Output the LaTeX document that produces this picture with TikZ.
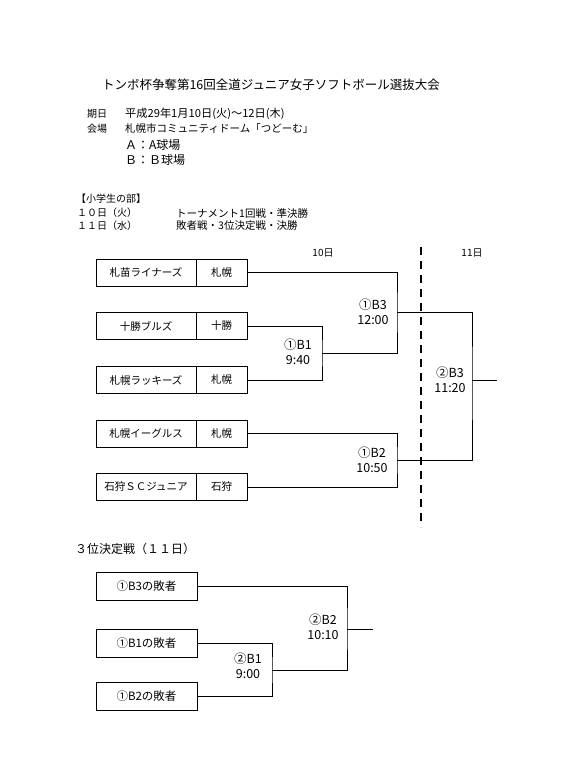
\documentclass[tikz,border=0pt]{standalone}
\usepackage{fontspec}
\setmainfont{Noto Sans CJK JP}
\usetikzlibrary{positioning}

\begin{document}
\begin{tikzpicture}[
    x=1pt, y=-1pt,
    txt/.style={anchor=west, inner sep=0pt, font=\fontsize{10.5}{12}\selectfont},
    cell/.style={draw, line width=0.9pt, outer sep=0pt, inner sep=0pt, minimum height=27pt, font=\fontsize{10.5}{12}\selectfont},
    namecell/.style={cell, minimum width=100pt},
    homecell/.style={cell, minimum width=51pt},
    losecell/.style={cell, minimum width=101pt, minimum height=28pt, font=\fontsize{11.5}{13}\selectfont},
    game/.style={align=center, inner sep=0pt, font=\fontsize{12.5}{14.5}\selectfont},
    line/.style={line width=0.9pt},
    dayline/.style={line width=2.5pt, dash pattern=on 8pt off 6pt}
  ]
    \useasboundingbox (0,0) rectangle (563,761);

    \node[font=\fontsize{12.5}{14}\selectfont] (title) at (271,85) {トンボ杯争奪第16回全道ジュニア女子ソフトボール選抜大会};
    \node[txt, font=\fontsize{10}{12}\selectfont] (kijitsu) at (87,114) {期日};
    \node[txt, font=\fontsize{11.2}{12}\selectfont] (date) at (125,114) {平成29年1月10日(火)～12日(木)};
    \node[txt, font=\fontsize{10}{12}\selectfont] (kaijo) at (87,129) {会場};
    \node[txt] (venue) at (125,129) {札幌市コミュニティドーム「つどーむ」};
    \node[txt, font=\fontsize{12}{14}\selectfont] (fieldA) at (125,145) {Ａ：A球場};
    \node[txt, font=\fontsize{12}{14}\selectfont] (fieldB) at (125,160) {Ｂ：Ｂ球場};

    \node[txt, font=\fontsize{10}{12}\selectfont] (div) at (76,199) {【小学生の部】};
    \node[txt, font=\fontsize{10}{12}\selectfont] (day1) at (77,213) {１０日（火）};
    \node[txt] (day1games) at (176,213) {トーナメント1回戦・準決勝};
    \node[txt, font=\fontsize{10}{12}\selectfont] (day2) at (77,226) {１１日（水）};
    \node[txt] (day2games) at (176,226) {敗者戦・3位決定戦・決勝};

    \node[font=\fontsize{10}{11}\selectfont] (head10) at (323,253) {10日};
    \node[font=\fontsize{10}{11}\selectfont] (head11) at (472,253) {11日};

    % tournament
    \node[namecell] (t1) at (146,272.5) {札苗ライナーズ};
    \node[homecell, right=0pt of t1] (h1) {札幌};
    \node[namecell] (t2) at (146,326) {十勝ブルズ};
    \node[homecell, right=0pt of t2] (h2) {十勝};
    \node[namecell] (t3) at (146,380) {札幌ラッキーズ};
    \node[homecell, right=0pt of t3] (h3) {札幌};
    \node[namecell] (t4) at (146,433.5) {札幌イーグルス};
    \node[homecell, right=0pt of t4] (h4) {札幌};
    \node[namecell] (t5) at (146,487) {石狩ＳＣジュニア};
    \node[homecell, right=0pt of t5] (h5) {石狩};

    \coordinate (b1) at (322,353);
    \coordinate (b3) at (397,312);
    \coordinate (b2) at (397,460);
    \coordinate (fin) at (472,380);
    \coordinate (finout) at (497,380);

    \draw[line] (h2.east) -| (b1) |- (h3.east);
    \draw[line] (h1.east) -| (b3) |- (b1);
    \draw[line] (h4.east) -| (b2) |- (h5.east);
    \draw[line] (b3) -| (fin) |- (b2);
    \draw[line] (fin) -- (finout);

    \node[game] (b1lab) at (298,352) {①B1\\9:40};
    \node[game] (b3lab) at (373,312) {①B3\\12:00};
    \node[game] (b2lab) at (372,460) {①B2\\10:50};
    \node[game] (finlab) at (450,380) {②B3\\11:20};

    \coordinate (daytop) at (421,247);
    \coordinate (daybot) at (421,527);
    \draw[dayline] (daytop) -- (daybot);

    % 3rd place
    \node[txt, font=\fontsize{12}{13}\selectfont] (third) at (75,549) {３位決定戦（１１日）};
    \node[losecell] (l1) at (146.5,586.5) {①B3の敗者};
    \node[losecell] (l2) at (146.5,643) {①B1の敗者};
    \node[losecell] (l3) at (146.5,696.5) {①B2の敗者};

    \coordinate (c1) at (272,670);
    \coordinate (c2) at (347,629);
    \coordinate (cout) at (373,629);

    \draw[line] (l2.east) -| (c1) |- (l3.east);
    \draw[line] (l1.east) -| (c2) |- (c1);
    \draw[line] (c2) -- (cout);

    \node[game] (c1lab) at (248,666) {②B1\\9:00};
    \node[game] (c2lab) at (323,627) {②B2\\10:10};
  \end{tikzpicture}
\end{document}
